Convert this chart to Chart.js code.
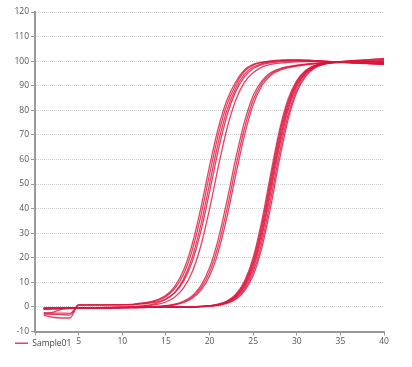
<!DOCTYPE html>
<html>
<head>
<meta charset="utf-8">
<script src="https://cdn.jsdelivr.net/npm/chart.js@4.4.1/dist/chart.umd.min.js"></script>
<style>
  html, body { margin: 0; padding: 0; background: #fff; }
</style>
</head>
<body>
<canvas id="c" width="412" height="367"></canvas>
<script>
var cycles = [1,2,3,4,5,6,7,8,9,10,11,12,13,14,15,16,17,18,19,20,21,22,23,24,25,26,27,28,29,30,31,32,33,34,35,36,37,38,39,40];
var yTicks = [-10, 120, 10];
var xTicks = [0, 40, 5];
var seriesName = 'Sample01';

// early group
var a1 = [-3.4,-4.2,-4.5,-4.5,0.8,0.8,0.8,0.8,0.9,0.9,1.0,1.5,1.9,2.9,4.7,8.3,14.7,25.3,40.1,57.2,72.7,84.2,91.5,96.4,98.7,99.6,100.1,100.4,100.5,100.5,100.4,100.2,100.0,99.8,99.6,99.4,99.2,99.1,98.9,98.8];
var a2 = [-2.9,-3.0,-3.1,-3.3,0.8,0.8,0.8,0.8,0.8,0.9,0.9,1.3,1.8,2.6,4.2,7.4,13.1,22.8,36.9,53.8,69.9,82.3,90.3,95.8,98.4,99.4,99.9,100.2,100.4,100.4,100.3,100.2,100.0,99.8,99.6,99.4,99.3,99.1,99.0,98.9];
var a3 = [-0.9,-0.8,-0.7,-0.6,-0.5,-0.4,-0.4,-0.3,-0.3,-0.2,-0.1,0.3,0.7,1.5,3.0,5.9,11.1,20.0,33.3,50.0,66.7,80.0,88.9,94.6,97.6,99.0,99.7,100.1,100.3,100.4,100.3,100.2,100.0,99.8,99.6,99.4,99.2,99.0,98.9,98.7];
var a4 = [-2.3,-2.5,-2.5,-2.6,0.7,0.7,0.7,0.8,0.8,0.8,0.8,1.1,1.5,2.1,3.3,5.7,10.3,18.2,30.6,46.7,63.6,77.8,87.6,93.6,97.0,98.6,99.3,99.7,99.9,100.0,100.0,99.9,99.8,99.7,99.6,99.5,99.3,99.2,99.0,98.9];
var a5 = [-2.6,-2.2,-1.0,-0.6,-0.4,-0.3,-0.3,-0.2,-0.2,-0.1,0.0,0.2,0.5,1.0,2.0,3.9,7.6,14.1,24.8,39.7,56.9,72.5,84.1,91.4,95.3,97.6,98.7,99.2,99.5,99.7,99.8,99.8,99.8,99.7,99.6,99.5,99.4,99.3,99.2,99.1];

// middle group
var b1 = [-0.6,-0.6,-0.5,-0.5,-0.4,-0.4,-0.3,-0.3,-0.3,-0.2,-0.2,-0.1,-0.1,0.2,0.5,1.1,2.3,4.5,8.6,15.9,27.5,43.1,60.3,75.2,85.9,92.0,95.3,96.9,97.8,98.4,98.8,99.1,99.4,99.5,99.6,99.6,99.6,99.6,99.6,99.5];
var b2 = [-0.7,-0.6,-0.6,-0.5,-0.5,-0.4,-0.4,-0.3,-0.3,-0.3,-0.2,-0.2,-0.1,0.1,0.4,0.9,2.0,3.9,7.6,14.1,24.8,39.7,56.9,72.5,84.1,91.1,94.8,96.6,97.6,98.2,98.7,99.0,99.3,99.5,99.6,99.7,99.7,99.7,99.6,99.6];
var b3 = [-0.5,-0.5,-0.4,-0.4,-0.4,-0.3,-0.3,-0.3,-0.2,-0.2,-0.2,-0.1,-0.1,0.1,0.3,0.8,1.7,3.4,6.7,12.5,22.3,36.5,53.5,69.7,82.2,90.0,94.2,96.2,97.3,98.0,98.5,98.9,99.2,99.4,99.6,99.7,99.8,99.8,99.8,99.7];

// late group
var c1 = [-0.6,-0.6,-0.5,-0.5,-0.5,-0.4,-0.4,-0.4,-0.3,-0.3,-0.3,-0.2,-0.2,-0.2,-0.1,-0.1,-0.1,0.0,0.2,0.5,1.1,2.4,5.1,10.4,20.0,35.1,53.8,71.6,84.5,92.1,96.2,98.2,99.2,99.6,99.8,99.9,100.0,100.1,100.1,100.2];
var c2 = [-0.8,-0.7,-0.6,-0.6,-0.5,-0.5,-0.4,-0.4,-0.4,-0.3,-0.3,-0.3,-0.2,-0.2,-0.2,-0.1,-0.1,0.0,0.2,0.5,1.0,2.1,4.4,9.1,17.7,31.7,50.0,68.3,82.3,91.0,95.6,97.9,99.0,99.5,99.8,100.0,100.2,100.4,100.6,100.8];
var c3 = [-0.5,-0.5,-0.4,-0.4,-0.4,-0.3,-0.3,-0.3,-0.2,-0.2,-0.2,-0.2,-0.1,-0.1,-0.1,0.0,0.0,0.1,0.2,0.4,0.9,1.9,4.1,8.5,16.6,30.0,48.1,66.6,81.1,90.3,95.2,97.6,98.7,99.2,99.4,99.4,99.3,99.2,99.0,98.8];
var c4 = [-0.7,-0.6,-0.6,-0.5,-0.5,-0.5,-0.4,-0.4,-0.3,-0.3,-0.3,-0.2,-0.2,-0.2,-0.1,-0.1,-0.1,-0.1,0.1,0.3,0.8,1.8,3.8,7.9,15.6,28.4,46.2,64.9,80.0,89.6,94.9,97.6,98.9,99.5,99.8,100.0,100.2,100.3,100.5,100.6];
var c5 = [-0.6,-0.5,-0.5,-0.5,-0.4,-0.4,-0.4,-0.3,-0.3,-0.3,-0.2,-0.2,-0.2,-0.1,-0.1,-0.1,0.0,0.0,0.1,0.3,0.7,1.4,3.0,6.4,12.8,24.0,40.5,59.5,76.0,87.3,93.7,97.0,98.6,99.4,99.8,100.1,100.4,100.6,100.9,101.1];
var c6 = [-0.9,-0.8,-0.7,-0.6,-0.6,-0.5,-0.5,-0.4,-0.4,-0.3,-0.3,-0.3,-0.2,-0.2,-0.2,-0.1,-0.1,0.0,0.1,0.4,1.0,2.3,4.8,9.7,18.9,33.4,51.9,70.0,83.4,91.5,95.9,98.0,99.0,99.4,99.6,99.6,99.6,99.5,99.4,99.3];
var c7 = [-0.4,-0.4,-0.4,-0.3,-0.3,-0.3,-0.3,-0.2,-0.2,-0.2,-0.2,-0.1,-0.1,-0.1,-0.1,0.0,0.0,0.0,0.1,0.3,0.6,1.6,3.4,7.1,14.2,26.2,43.4,62.2,78.0,88.4,94.3,97.3,98.7,99.4,99.7,99.8,99.9,99.9,99.9,99.9];

var curves = [a1, a2, a3, a4, a5, b1, b2, b3, c1, c2, c3, c4, c5, c6, c7];

var font = {family: "'Open Sans', 'DejaVu Sans', sans-serif", size: 8.5};

var datasets = curves.map(vals => ({
  label: seriesName,
  data: vals.map((v, i) => ({x: cycles[i], y: v})),
  borderColor: 'rgba(220,20,60,0.8)',
  backgroundColor: 'rgba(220,20,60,0.8)',
  borderWidth: 1.3,
  pointRadius: 0,
  cubicInterpolationMode: 'monotone',
  fill: false
}));

// the original legend sits left of the x labels, on the same row
var legendShift = {
  id: 'legendShift',
  afterLayout(chart) {
    var lg = chart.legend;
    lg.left += 12;
    lg.right += 12;
    lg.top -= 9.5;
    lg.bottom -= 9.5;
  }
};

new Chart(document.getElementById('c'), {
  type: 'line',
  data: {datasets: datasets},
  plugins: [legendShift],
  options: {
    responsive: false,
    animation: false,
    layout: {padding: {top: 12, right: 28, left: 0, bottom: 0}},
    scales: {
      x: {
        type: 'linear',
        min: xTicks[0],
        max: xTicks[1],
        ticks: {
          stepSize: xTicks[2],
          color: '#555',
          font: font,
          padding: 1,
          maxRotation: 0,
          callback: v => v === 0 ? '' : v
        },
        grid: {drawOnChartArea: false, tickLength: 4, tickColor: '#999'},
        border: {color: '#999', width: 2},
        afterFit: s => { s.height = 14; }
      },
      y: {
        min: yTicks[0],
        max: yTicks[1],
        ticks: {stepSize: yTicks[2], color: '#555', font: font, padding: 2},
        grid: {color: '#cfcfcf', tickLength: 4, tickColor: '#999'},
        border: {color: '#999', width: 2, dash: [1, 1]},
        afterFit: s => { s.width = 35; }
      }
    },
    plugins: {
      legend: {
        position: 'bottom',
        align: 'start',
        labels: {
          filter: item => item.datasetIndex === 0,
          usePointStyle: true,
          pointStyle: 'line',
          pointStyleWidth: 13,
          padding: 3,
          color: '#444',
          font: font
        }
      },
      tooltip: {enabled: false}
    }
  }
});
</script>
</body>
</html>
